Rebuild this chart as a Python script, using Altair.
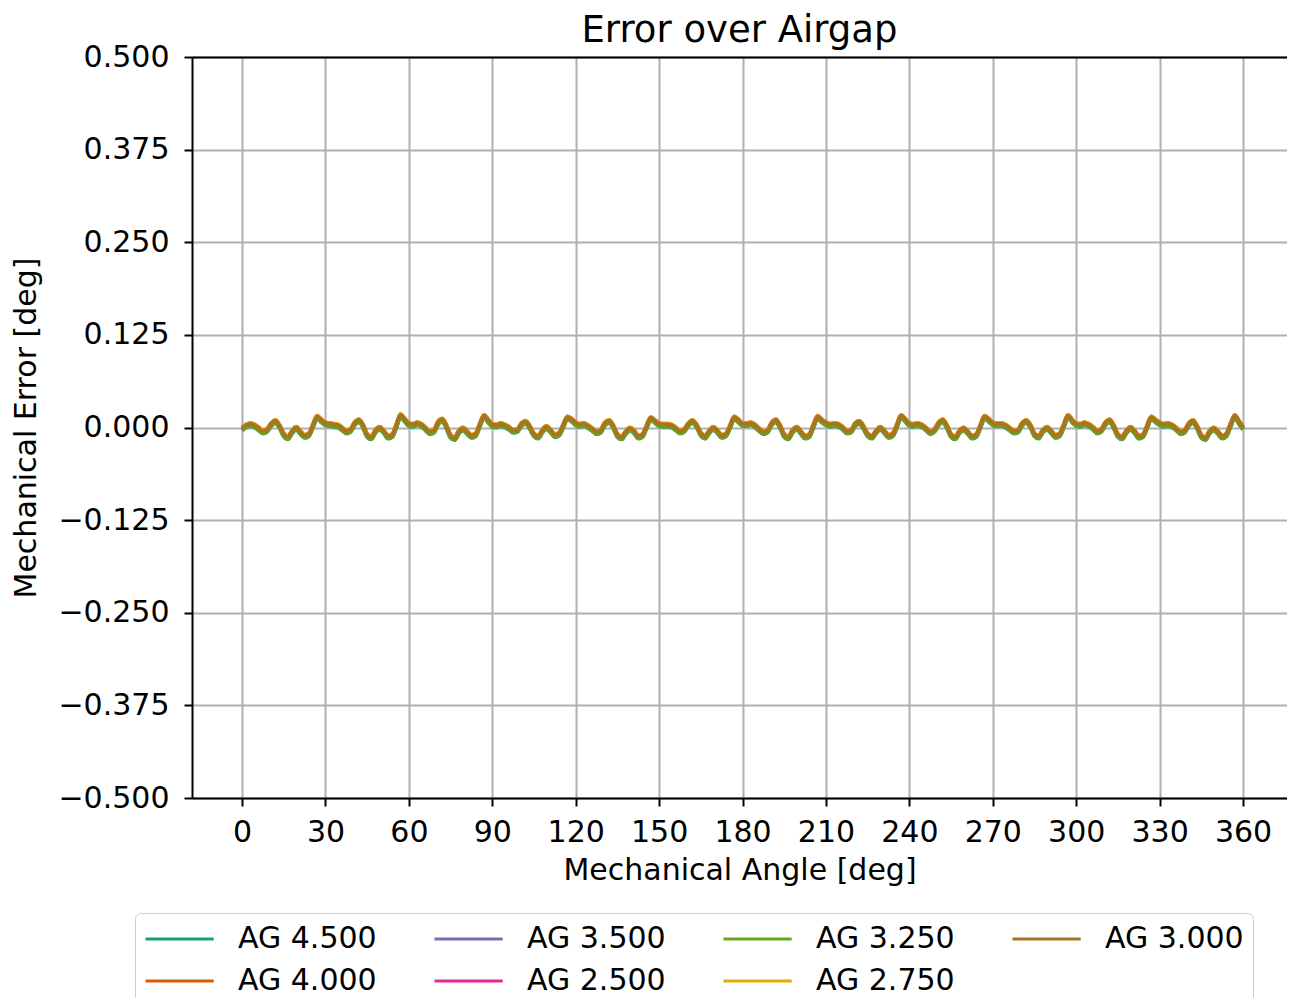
import altair as alt
import numpy as np
import pandas as pd

# Mechanical angle sample grid (deg)
angles = np.round(np.arange(0, 360.0001, 1.5), 2)

base_error = (
    [-0.001, 0.003, 0.005, 0.003, -0.001, -0.005, -0.003, 0.005, 0.009, 0.002,
     -0.009, -0.013, -0.005, 0.000, -0.006, -0.011, -0.009, 0.003]
    + [0.015, 0.010, 0.006, 0.005, 0.004, 0.003, -0.001, -0.005, -0.003, 0.006,
       0.010, 0.003, -0.010, -0.013, -0.004, 0.000, -0.005, -0.012, -0.010, 0.003]
    + [0.017, 0.011, 0.005, 0.004, 0.006, 0.004, -0.001, -0.006, -0.004, 0.007,
       0.011, 0.002, -0.011, -0.014, -0.005, -0.001, -0.006, -0.011, -0.009, 0.004]
    + [0.016, 0.010, 0.004, 0.003, 0.005, 0.003, 0.000, -0.004, -0.003, 0.005,
       0.008, 0.001, -0.009, -0.012, -0.004, 0.001, -0.004, -0.010, -0.008, 0.003]
    + [0.014, 0.011, 0.006, 0.004, 0.005, 0.002, -0.002, -0.006, -0.004, 0.006,
       0.009, 0.002, -0.010, -0.013, -0.006, -0.001, -0.005, -0.012, -0.010, 0.002]
    + [0.013, 0.009, 0.005, 0.004, 0.004, 0.003, -0.001, -0.005, -0.003, 0.005,
       0.009, 0.003, -0.008, -0.012, -0.005, 0.000, -0.005, -0.011, -0.009, 0.002]
    + [0.014, 0.010, 0.005, 0.005, 0.006, 0.003, -0.002, -0.006, -0.004, 0.006,
       0.010, 0.002, -0.010, -0.013, -0.004, 0.000, -0.006, -0.012, -0.010, 0.003]
    + [0.015, 0.010, 0.006, 0.004, 0.005, 0.004, 0.000, -0.005, -0.004, 0.005,
       0.008, 0.001, -0.009, -0.012, -0.005, 0.000, -0.005, -0.011, -0.009, 0.003]
    + [0.016, 0.011, 0.005, 0.004, 0.005, 0.003, -0.001, -0.006, -0.003, 0.006,
       0.010, 0.002, -0.010, -0.013, -0.005, -0.001, -0.006, -0.012, -0.010, 0.002]
    + [0.015, 0.011, 0.006, 0.005, 0.005, 0.003, -0.001, -0.005, -0.004, 0.005,
       0.009, 0.003, -0.009, -0.012, -0.004, 0.000, -0.005, -0.011, -0.009, 0.003]
    + [0.016, 0.010, 0.005, 0.004, 0.006, 0.004, 0.000, -0.005, -0.003, 0.006,
       0.010, 0.002, -0.010, -0.013, -0.005, 0.000, -0.005, -0.012, -0.010, 0.002]
    + [0.014, 0.010, 0.006, 0.004, 0.005, 0.003, -0.001, -0.006, -0.004, 0.005,
       0.009, 0.001, -0.011, -0.014, -0.005, -0.001, -0.006, -0.012, -0.009, 0.004]
    + [0.016, 0.008, 0.000]
)

# Series (drawing order, last on top) and their small offsets from the base curve
series_names = ["AG 4.500", "AG 4.000", "AG 3.500", "AG 2.500", "AG 3.250", "AG 2.750", "AG 3.000"]
series_offsets = [-0.0030, 0.0009, -0.0018, 0.0006, -0.0024, 0.0010, 0.0]
series_colors = ["#1b9e77", "#d95f02", "#7570b3", "#e7298a", "#66a61e", "#e6ab02", "#a6761d"]

# Legend order (matplotlib fills the 4 columns top-to-bottom)
legend_order = ["AG 4.500", "AG 3.500", "AG 3.250", "AG 3.000", "AG 4.000", "AG 2.500", "AG 2.750"]
legend_colors = [series_colors[series_names.index(n)] for n in legend_order]

rows = []
for k, (name, off) in enumerate(zip(series_names, series_offsets)):
    for a, v in zip(angles, base_error):
        rows.append({"angle": float(a), "error": v + off, "series": name, "k": k})
df = pd.DataFrame(rows)

FONT = "DejaVu Sans"
FS = 30

x_scale = alt.Scale(domain=[-18, 375.8], nice=False, zero=False)
y_scale = alt.Scale(domain=[-0.5, 0.5], nice=False)

lines = (
    alt.Chart(df)
    .mark_line(strokeWidth=4, clip=True, interpolate="monotone")
    .encode(
        x=alt.X(
            "angle:Q",
            scale=x_scale,
            axis=alt.Axis(
                values=list(range(0, 361, 30)),
                title="Mechanical Angle [deg]",
                labelFontSize=FS,
                titleFontSize=FS,
                titleFontWeight="normal",
                labelPadding=11,
                titlePadding=8,
            ),
        ),
        y=alt.Y(
            "error:Q",
            scale=y_scale,
            axis=alt.Axis(
                values=[-0.5, -0.375, -0.25, -0.125, 0, 0.125, 0.25, 0.375, 0.5],
                format=".3f",
                title="Mechanical Error [deg]",
                labelFontSize=FS,
                titleFontSize=FS,
                titleFontWeight="normal",
                labelPadding=15,
                titlePadding=16,
            ),
        ),
        color=alt.Color(
            "series:N",
            scale=alt.Scale(domain=legend_order, range=legend_colors),
            legend=alt.Legend(
                title=None,
                orient="none",
                legendX=-57,
                legendY=856,
                direction="horizontal",
                columns=4,
                columnPadding=51,
                rowPadding=10,
                symbolType="M-1,0H3.4",
                symbolSize=961,
                symbolStrokeWidth=3,
                labelFontSize=FS,
                labelOffset=60,
                labelLimit=300,
                strokeColor="#cccccc",
                fillColor="white",
                cornerRadius=6,
                padding=9,
            ),
        ),
        order=alt.Order("k:Q"),
    )
)

# top frame line (matplotlib axes box) as an unlabeled top axis
top_frame = (
    alt.Chart(df)
    .mark_line(opacity=0)
    .encode(
        x=alt.X(
            "angle:Q",
            scale=x_scale,
            axis=alt.Axis(orient="top", labels=False, ticks=False, grid=False, title=None, domain=True),
        ),
        y=alt.Y("error:Q", scale=y_scale),
        detail="series:N",
    )
)

chart = (
    alt.layer(lines, top_frame)
    .resolve_axis(x="independent")
    .properties(
        width=1095,
        height=741,
        title=alt.Title("Error over Airgap", fontSize=37, fontWeight="normal", offset=4, dy=12),
        autosize=alt.AutoSizeParams(type="none"),
        padding={"left": 184, "top": 49, "right": 0, "bottom": 200},
    )
    .configure(font=FONT)
    .configure_view(stroke=None)
    .configure_axis(
        grid=True,
        gridColor="#b0b0b0",
        gridWidth=2,
        domainColor="black",
        domainWidth=2,
        tickColor="black",
        tickWidth=2,
        tickSize=8,
        labelColor="black",
        titleColor="black",
        labelFont=FONT,
        titleFont=FONT,
    )
    .configure_legend(labelColor="black", labelFont=FONT)
    .configure_title(color="black", font=FONT, anchor="middle")
)

chart.save("out.html", embed_options={"renderer": "svg", "actions": False})
